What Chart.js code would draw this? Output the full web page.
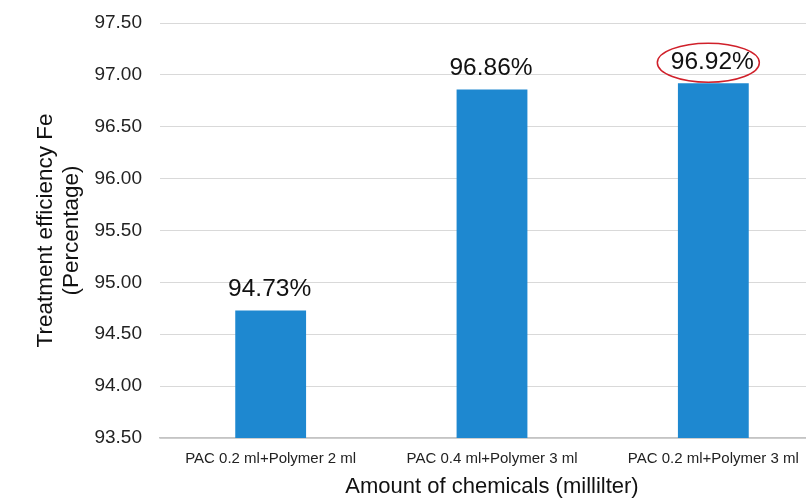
<!DOCTYPE html>
<html>
<head>
<meta charset="utf-8">
<script src="https://cdn.jsdelivr.net/npm/chart.js@4"></script>
<style>
html,body{margin:0;padding:0;background:#fff;overflow:hidden;}
#wrap{width:824px;height:498px;position:relative;}
</style>
</head>
<body>
<div id="wrap"><canvas id="c"></canvas></div>
<script>
const categories = ["PAC 0.2 ml+Polymer 2 ml", "PAC 0.4 ml+Polymer 3 ml", "PAC 0.2 ml+Polymer 3 ml"];
const efficiency = [94.73, 96.86, 96.92];
const valueLabels = ["94.73%", "96.86%", "96.92%"];
const yTickValues = [93.5, 94.0, 94.5, 95.0, 95.5, 96.0, 96.5, 97.0, 97.5];
const highlightIndex = 2;

const FONT = "'Liberation Sans', Arial, Helvetica, sans-serif";

const labelPlugin = {
  id: 'valueLabels',
  afterDatasetsDraw(chart) {
    const ctx = chart.ctx;
    const meta = chart.getDatasetMeta(0);
    ctx.save();
    ctx.font = "24.5px " + FONT;
    ctx.fillStyle = "#111";
    ctx.textAlign = "center";
    ctx.textBaseline = "alphabetic";
    meta.data.forEach((bar, i) => {
      ctx.fillText(valueLabels[i], bar.x - 1, bar.y - 14);
    });
    const b = meta.data[highlightIndex];
    ctx.strokeStyle = "#d0202a";
    ctx.lineWidth = 1.5;
    ctx.beginPath();
    ctx.ellipse(b.x - 5, b.y - 20.5, 51, 19.5, 0, 0, Math.PI * 2);
    ctx.stroke();
    ctx.restore();
  }
};

new Chart(document.getElementById('c'), {
  type: 'bar',
  data: {
    labels: categories,
    datasets: [{
      data: efficiency,
      backgroundColor: '#1e88d0',
      barPercentage: 0.32,
      categoryPercentage: 1.0
    }]
  },
  options: {
    responsive: true,
    maintainAspectRatio: false,
    animation: false,
    layout: { padding: { top: 23, right: 0, bottom: 0, left: 0 } },
    plugins: { legend: { display: false }, tooltip: { enabled: false } },
    scales: {
      x: {
        afterFit(scale) { scale.height = 60; },
        grid: { display: false, drawTicks: false },
        border: { display: true, color: '#c4c4c4', width: 1.5 },
        ticks: { font: { family: FONT, size: 15, lineHeight: 1.2 }, color: '#222', padding: 12, maxRotation: 0 },
        title: { display: true, text: 'Amount of chemicals (millilter)', font: { family: FONT, size: 22, lineHeight: 1.0 }, color: '#111', padding: { top: 10, bottom: 0 } }
      },
      y: {
        min: 93.5,
        max: 97.5,
        afterBuildTicks(scale) { scale.ticks = yTickValues.map(v => ({ value: v })); },
        afterFit(scale) { scale.width = 160; },
        grid: { color: '#d9d9d9', lineWidth: 1, drawTicks: true, tickLength: 18, tickColor: 'rgba(0,0,0,0)' },
        border: { display: false },
        ticks: {
          font: { family: FONT, size: 19 }, color: '#222', padding: 0,
          callback: v => v.toFixed(2)
        },
        title: { display: true, text: ['Treatment efficiency Fe', '(Percentage)'], font: { family: FONT, size: 22.5, lineHeight: 1.16 }, color: '#111', padding: { top: 33, bottom: 0 } }
      }
    }
  },
  plugins: [labelPlugin]
});
</script>
</body>
</html>
